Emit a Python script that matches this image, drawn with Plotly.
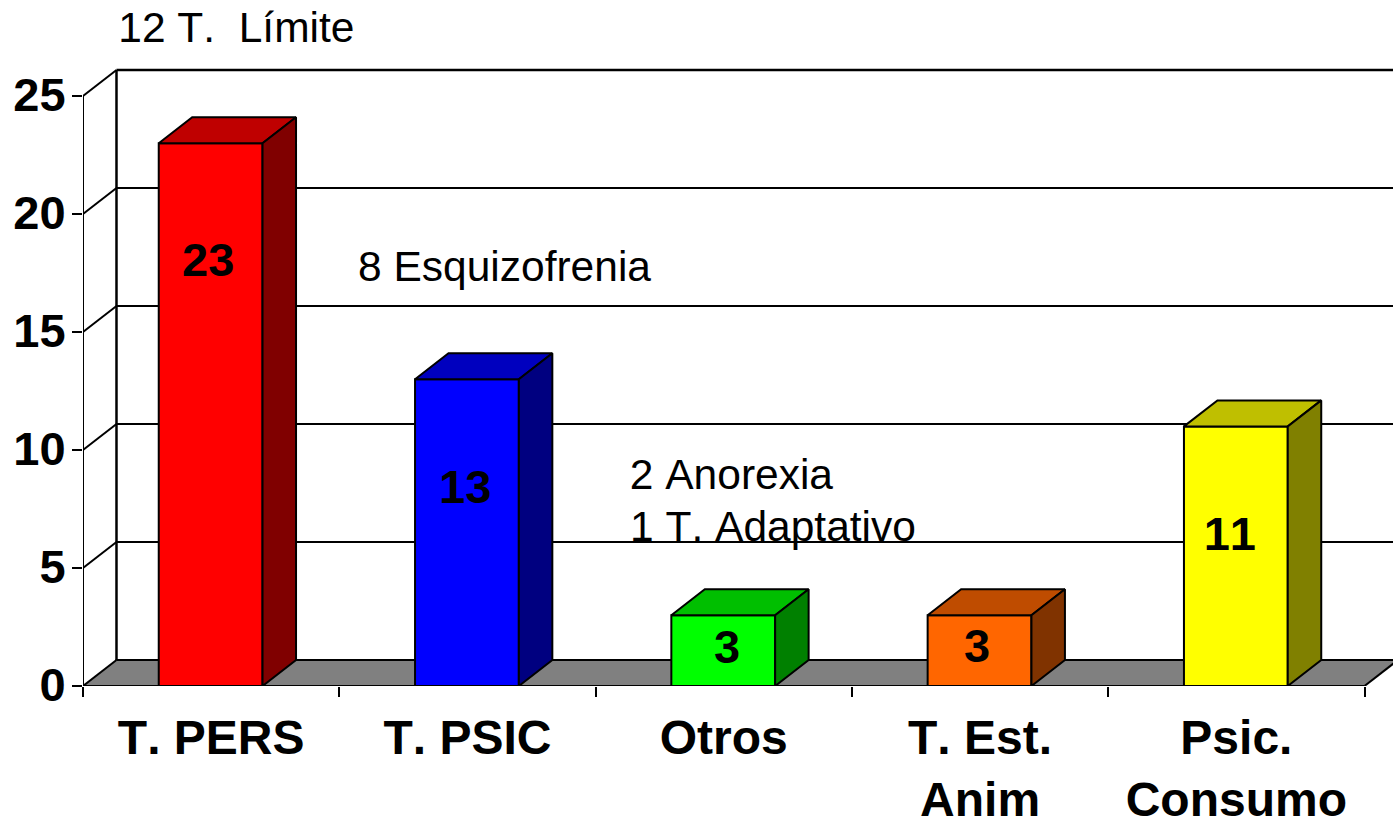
import plotly.graph_objects as go


# ---------------------------------
# DATA
# ---------------------------------

categories = ["T. PERS", "T. PSIC", "Otros", "T. Est.<br>Anim", "Psic.<br>Consumo"]
values = [23, 13, 3, 3, 11]
label_heights = [18.07, 8.44, 1.68, 1.72, 6.48]
label_shifts = [-3, -2, 3, -3, -6]
y_ticks = [0, 5, 10, 15, 20, 25]

front_colors = ["#ff0000", "#0000ff", "#00ff00", "#ff6600", "#ffff00"]
top_colors = ["#bf0000", "#0000bf", "#00bf00", "#bf4c00", "#bfbf00"]
side_colors = ["#800000", "#000080", "#008000", "#803300", "#808000"]

notes = ["12 T.\u00a0 Límite", "8 Esquizofrenia", "2 Anorexia", "1 T. Adaptativo"]
note_x = [-0.358, 0.567, 1.63, 1.642]
note_y = [27.92, 17.78, 8.98, 6.74]


# ---------------------------------
# GEOMETRY OF THE FAKE 3D BOX
# ---------------------------------

WIDTH = 1393
HEIGHT = 821
LEFT = 82.5
BOTTOM = 135
CATEGORY_PX = 256.4
UNIT_PX = 23.6

X_MIN = -0.5
X_MAX = X_MIN + (WIDTH - LEFT) / CATEGORY_PX
X_END = X_MIN + len(values)
Y_MAX = (HEIGHT - BOTTOM) / UNIT_PX

DEPTH_X = 33.5 / CATEGORY_PX
DEPTH_Y = 26 / UNIT_PX
BAR_WIDTH = 0.405

FONT = "Liberation Sans, Arial, sans-serif"
LINE = dict(color="black", width=2)
HEAVY_LINE = dict(color="black", width=2.5)

fig = go.Figure()

# front faces
fig.add_trace(go.Bar(
    x=[i - 0.002 for i in range(len(values))],
    y=values,
    width=BAR_WIDTH,
    marker=dict(color=front_colors, line=LINE),
    hoverinfo="skip"
))

# top and side faces
for i, value in enumerate(values):
    x0 = i - 0.002 - BAR_WIDTH / 2
    x1 = i - 0.002 + BAR_WIDTH / 2

    fig.add_trace(go.Scatter(
        x=[x0, x0 + DEPTH_X, x1 + DEPTH_X, x1, x0],
        y=[value, value + DEPTH_Y, value + DEPTH_Y, value, value],
        mode="lines",
        fill="toself",
        fillcolor=top_colors[i],
        line=LINE,
        hoverinfo="skip"
    ))

    fig.add_trace(go.Scatter(
        x=[x1, x1 + DEPTH_X, x1 + DEPTH_X, x1, x1],
        y=[0, DEPTH_Y, value + DEPTH_Y, value, 0],
        mode="lines",
        fill="toself",
        fillcolor=side_colors[i],
        line=LINE,
        hoverinfo="skip"
    ))

# front edges of the box, not clipped at the plot border
fig.add_trace(go.Scatter(
    x=[X_MIN, X_MIN, X_END],
    y=[max(y_ticks), 0, 0],
    mode="lines",
    line=LINE,
    cliponaxis=False,
    hoverinfo="skip"
))

# floor
fig.add_shape(
    type="path",
    path=(
        f"M {X_MIN} 0 L {X_MIN + DEPTH_X} {DEPTH_Y} "
        f"L {X_END + DEPTH_X} {DEPTH_Y} L {X_END} 0 Z"
    ),
    fillcolor="#808080",
    line=dict(width=0),
    layer="below"
)

fig.add_shape(
    type="line",
    x0=X_END, y0=0,
    x1=X_END + DEPTH_X, y1=DEPTH_Y,
    line=LINE,
    layer="below"
)

# back wall lines and the slanted ticks joining them to the front axis
for tick in y_ticks:
    fig.add_shape(
        type="line",
        x0=X_MIN + DEPTH_X, y0=tick + DEPTH_Y,
        x1=X_MAX, y1=tick + DEPTH_Y,
        line=HEAVY_LINE if tick == max(y_ticks) else LINE,
        layer="below"
    )
    fig.add_shape(
        type="line",
        x0=X_MIN, y0=tick,
        x1=X_MIN + DEPTH_X, y1=tick + DEPTH_Y,
        line=LINE,
        layer="below"
    )

# back vertical edge
fig.add_shape(
    type="line",
    x0=X_MIN + DEPTH_X, y0=DEPTH_Y,
    x1=X_MIN + DEPTH_X, y1=max(y_ticks) + DEPTH_Y,
    line=HEAVY_LINE,
    layer="below"
)

# numbers on the bars
for i, value in enumerate(values):
    fig.add_annotation(
        x=i,
        y=label_heights[i],
        xshift=label_shifts[i],
        text=f"<b>{value}</b>",
        showarrow=False,
        font=dict(family=FONT, size=47, color="black")
    )

# free notes
for text, x, y in zip(notes, note_x, note_y):
    fig.add_annotation(
        x=x,
        y=y,
        text=text,
        xanchor="left",
        showarrow=False,
        font=dict(family=FONT, size=42.5, color="black")
    )

fig.update_layout(
    width=WIDTH,
    height=HEIGHT,
    autosize=False,
    showlegend=False,
    paper_bgcolor="white",
    plot_bgcolor="white",
    margin=dict(l=LEFT, r=0, t=0, b=BOTTOM, pad=0),
    font=dict(family=FONT, color="black")
)

fig.update_xaxes(
    range=[X_MIN, X_MAX],
    automargin=False,
    tickmode="array",
    tickvals=list(range(len(categories))),
    ticktext=[f"<b>{c}</b>" for c in categories],
    tickfont=dict(family=FONT, size=48, color="black"),
    ticks="",
    tickangle=0,
    ticklabelstandoff=19,
    showgrid=False,
    zeroline=False,
    showline=False,
    minor=dict(
        tickmode="array",
        tickvals=[i + X_MIN for i in range(len(categories) + 1)],
        ticks="outside",
        ticklen=10,
        tickwidth=2,
        tickcolor="black",
        showgrid=False
    )
)

fig.update_yaxes(
    range=[0, Y_MAX],
    automargin=False,
    tickmode="array",
    tickvals=y_ticks,
    ticktext=[f"<b>{t}</b>" for t in y_ticks],
    tickfont=dict(family=FONT, size=47, color="black"),
    ticks="outside",
    ticklen=10,
    tickwidth=2,
    tickcolor="black",
    ticklabelstandoff=-3,
    ticklabelshift=-1,
    showgrid=False,
    zeroline=False,
    showline=False
)

# page margin off, and no kerning: the reference text has none
page_fix = """
document.body.style.margin = '0';
document.documentElement.style.overflow = 'hidden';
document.head.insertAdjacentHTML('beforeend', '<style>text{font-kerning:none}</style>');
"""

fig.write_html("out.html", config=dict(displayModeBar=False), post_script=page_fix)
